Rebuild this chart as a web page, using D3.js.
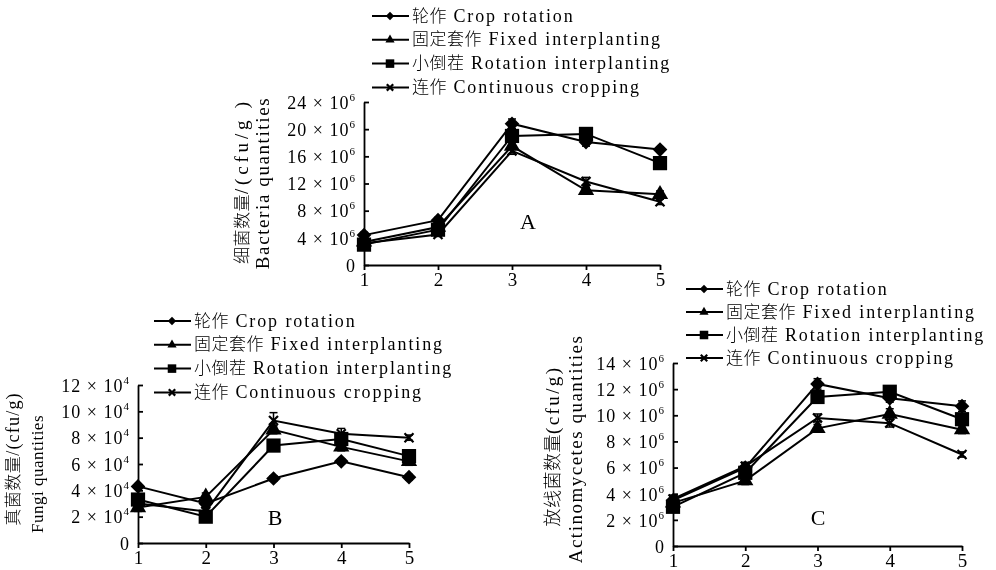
<!DOCTYPE html>
<html>
<head>
<meta charset="utf-8">
<script src="https://cdn.jsdelivr.net/npm/d3@7/dist/d3.min.js"></script>
<style>
  body { margin: 0; background: #fff; }
  text { font-family: "Liberation Serif", serif; fill: #000; }
</style>
</head>
<body>
<div id="chart"></div>
<script>
// Sampling periods on the x axis
var periods = [1, 2, 3, 4, 5];
var seriesNames = ["轮作 Crop rotation", "固定套作 Fixed interplanting", "小倒茬 Rotation interplanting", "连作 Continuous cropping"];
var seriesSymbols = ["diamond", "triangle", "square", "cross"];

// A: bacteria (x 10^6 cfu/g)
var bacteriaRotation    = [4.4, 6.6, 20.8, 18.1, 17.0];
var bacteriaFixed       = [3.4, 5.6, 17.5, 11.0, 10.4];
var bacteriaRotInter    = [3.0, 5.2, 19.0, 19.3, 15.0];
var bacteriaContinuous  = [3.2, 4.5, 16.8, 12.3, 9.3];
var bacteriaErr = [[0.4, 0.4, 0.7, 0.6, 0.4], [0.4, 0.5, 0.5, 0.4, 0.5], [0.3, 0.3, 0.5, 0.4, 0.3], [0.3, 0.3, 0.5, 0.6, 0.4]];
var bacteriaTicks = [0, 4, 8, 12, 16, 20, 24];

// B: fungi (x 10^4 cfu/g)
var fungiRotation   = [4.3, 3.0, 4.9, 6.2, 5.0];
var fungiFixed      = [2.7, 3.5, 8.6, 7.3, 6.2];
var fungiRotInter   = [3.3, 2.0, 7.4, 7.9, 6.6];
var fungiContinuous = [3.0, 2.4, 9.3, 8.3, 8.0];
var fungiErr = [[0.2, 0.2, 0.2, 0.2, 0.2], [0.3, 0.3, 0.3, 0.3, 0.3], [0.3, 0.3, 0.3, 0.3, 0.3], [0.3, 0.3, 0.6, 0.4, 0.2]];
var fungiTicks = [0, 2, 4, 6, 8, 10, 12];

// C: actinomycetes (x 10^6 cfu/g)
var actinoRotation   = [3.5, 6.0, 12.4, 11.3, 10.7];
var actinoFixed      = [3.3, 5.0, 9.0, 10.1, 8.9];
var actinoRotInter   = [3.0, 5.6, 11.4, 11.8, 9.7];
var actinoContinuous = [3.6, 6.1, 9.8, 9.4, 7.0];
var actinoErr = [[0.3, 0.3, 0.4, 0.3, 0.4], [0.3, 0.3, 0.3, 0.4, 0.3], [0.3, 0.3, 0.3, 0.3, 0.4], [0.3, 0.3, 0.3, 0.3, 0.2]];
var actinoTicks = [0, 2, 4, 6, 8, 10, 12, 14];

var width = 996, height = 570;

// grayscale filter keeps rotated glyphs free of colour fringes
var svg = d3.select("#chart")
  .append("svg")
  .attr("width", width)
  .attr("height", height)
  .style("filter", "grayscale(1)");

// split a label in CJK / latin runs so each gets its own font
function mixedText(t, str, cjkSize, latSize, spacing) {
    var runs = str.match(/[\u4e00-\u9fff]+|[^\u4e00-\u9fff]+/g);
    runs.forEach(function (r) {
        var cjk = /[\u4e00-\u9fff]/.test(r);
        t.append("tspan")
          .style("font-family", cjk ? "'Noto Sans CJK SC'" : "'Liberation Serif'")
          .style("font-weight", cjk ? 300 : 400)
          .attr("font-size", cjk ? cjkSize : latSize)
          .attr("letter-spacing", cjk ? 0.5 : spacing)
          .text(r);
    });
}

// marker generator, diamond is a square turned 45 degrees
function marker(sel, type, s) {
    if (type == "diamond") {
        sel.append("path")
          .attr("d", d3.symbol(d3.symbolSquare, s * s * 0.55)())
          .attr("transform", "rotate(45)")
          .attr("fill", "#000");
    } else if (type == "triangle") {
        sel.append("path")
          .attr("d", d3.symbol(d3.symbolTriangle, s * s * 0.45)())
          .attr("fill", "#000");
    } else if (type == "square") {
        sel.append("path")
          .attr("d", d3.symbol(d3.symbolSquare, s * s * 0.9)())
          .attr("fill", "#000");
    } else {
        sel.append("path")
          .attr("d", d3.symbol(d3.symbolTimes, s * s * 0.45)())
          .attr("fill", "none")
          .attr("stroke", "#000")
          .attr("stroke-width", 2.2);
    }
}

function drawPanel(cfg) {
    var g = svg.append("g");
    var x = d3.scaleLinear().domain([1, 5]).range([cfg.x0, cfg.x1]);
    var y = d3.scaleLinear().domain([0, d3.max(cfg.ticks)]).range([cfg.y0, cfg.y1]);

    // y axis, ticks pointing inside
    var ya = g.append("g")
      .attr("transform", "translate(" + cfg.x0 + ",0)")
      .call(d3.axisLeft(y).tickValues(cfg.ticks).tickSizeInner(-5).tickSizeOuter(0).tickPadding(9));
    ya.selectAll(".tick text").each(function (d) {
        var t = d3.select(this);
        t.text(null).attr("font-size", 18).attr("dy", "0.35em").attr("font-family", "Liberation Serif");
        if (d == 0) {
            t.text("0");
        } else {
            t.append("tspan").attr("letter-spacing", 1).text(d + " × 10");
            t.append("tspan").attr("dy", -8).attr("font-size", 11).text(cfg.exp);
        }
    });

    // x axis, ticks pointing down
    var xa = g.append("g")
      .attr("transform", "translate(0," + cfg.y0 + ")")
      .call(d3.axisBottom(x).tickValues(periods).tickSizeInner(5).tickSizeOuter(0).tickPadding(3).tickFormat(d3.format("d")));
    xa.selectAll(".tick text").attr("font-size", 19).attr("font-family", "Liberation Serif");

    g.selectAll(".domain, .tick line").attr("stroke", "#000").attr("stroke-width", 1.8);

    var line = d3.line()
      .x(function (d, i) { return x(periods[i]); })
      .y(function (d) { return y(d); });

    cfg.series.forEach(function (vals, k) {
        g.append("path")
          .datum(vals)
          .attr("d", line)
          .attr("fill", "none")
          .attr("stroke", "#000")
          .attr("stroke-width", 2);

        // error bars
        vals.forEach(function (v, i) {
            var e = cfg.err[k][i];
            var px = x(periods[i]);
            g.append("line").attr("x1", px).attr("x2", px).attr("y1", y(v - e)).attr("y2", y(v + e))
              .attr("stroke", "#000").attr("stroke-width", 1.5);
            [v - e, v + e].forEach(function (w) {
                g.append("line").attr("x1", px - 4).attr("x2", px + 4).attr("y1", y(w)).attr("y2", y(w))
                  .attr("stroke", "#000").attr("stroke-width", 1.5);
            });
        });

        g.selectAll(null)
          .data(vals)
          .enter()
          .append("g")
          .attr("transform", function (d, i) { return "translate(" + x(periods[i]) + "," + y(d) + ")"; })
          .each(function () { marker(d3.select(this), seriesSymbols[k], cfg.msize[k]); });
    });

    // panel letter
    g.append("text")
      .attr("x", cfg.letter[1])
      .attr("y", cfg.letter[2])
      .attr("text-anchor", "middle")
      .attr("dy", "0.35em")
      .attr("font-size", 22)
      .text(cfg.letter[0]);

    // y axis title, two rotated lines, each with [text, x, y, cjk size, latin size, spacing]
    cfg.title.forEach(function (t) {
        var tx = g.append("text")
          .attr("transform", "translate(" + t[1] + "," + t[2] + ") rotate(-90)")
          .attr("text-anchor", "middle")
          .attr("dy", "0.35em");
        mixedText(tx, t[0], t[3], t[4], t[5]);
    });

    // legend
    seriesNames.forEach(function (name, k) {
        var ly = cfg.legend[1] + k * cfg.legend[2];
        var lx = cfg.legend[0];
        g.append("line").attr("x1", lx).attr("x2", lx + 37).attr("y1", ly).attr("y2", ly)
          .attr("stroke", "#000").attr("stroke-width", 2);
        var m = g.append("g").attr("transform", "translate(" + (lx + 18) + "," + ly + ")");
        marker(m, seriesSymbols[k], [8, 9, 9, 8][k]);
        var tx = g.append("text")
          .attr("x", lx + 40)
          .attr("y", ly)
          .attr("dy", "0.35em");
        mixedText(tx, name, 17, 18, 1.9);
    });
}

drawPanel({
    x0: 364, x1: 660, y0: 265, y1: 102,
    ticks: bacteriaTicks, exp: "6",
    series: [bacteriaRotation, bacteriaFixed, bacteriaRotInter, bacteriaContinuous],
    err: bacteriaErr,
    msize: [14, 16, 15, 11],
    letter: ["A", 528, 221],
    title: [["细菌数量/(cfu/g )", 242, 181, 17, 19, 3.8], ["Bacteria quantities", 263, 183, 17, 19, 1.6]],
    legend: [372, 16, 23.8]
});

drawPanel({
    x0: 138, x1: 409, y0: 543, y1: 385,
    ticks: fungiTicks, exp: "4",
    series: [fungiRotation, fungiFixed, fungiRotInter, fungiContinuous],
    err: fungiErr,
    msize: [14, 16, 15, 11],
    letter: ["B", 275, 517],
    title: [["真菌数量/(cfu/g)", 13, 459, 17, 18, 1.2], ["Fungi quantities", 37, 474, 17, 17, 0.5]],
    legend: [154, 321, 23.8]
});

drawPanel({
    x0: 673, x1: 962, y0: 546, y1: 363,
    ticks: actinoTicks, exp: "6",
    series: [actinoRotation, actinoFixed, actinoRotInter, actinoContinuous],
    err: actinoErr,
    msize: [14, 16, 15, 11],
    letter: ["C", 818, 517],
    title: [["放线菌数量(cfu/g)", 553, 446, 18, 19, 2.4], ["Actinomycetes quantities", 576, 449, 17, 19, 1.5]],
    legend: [686, 289, 23]
});
</script>
</body>
</html>
